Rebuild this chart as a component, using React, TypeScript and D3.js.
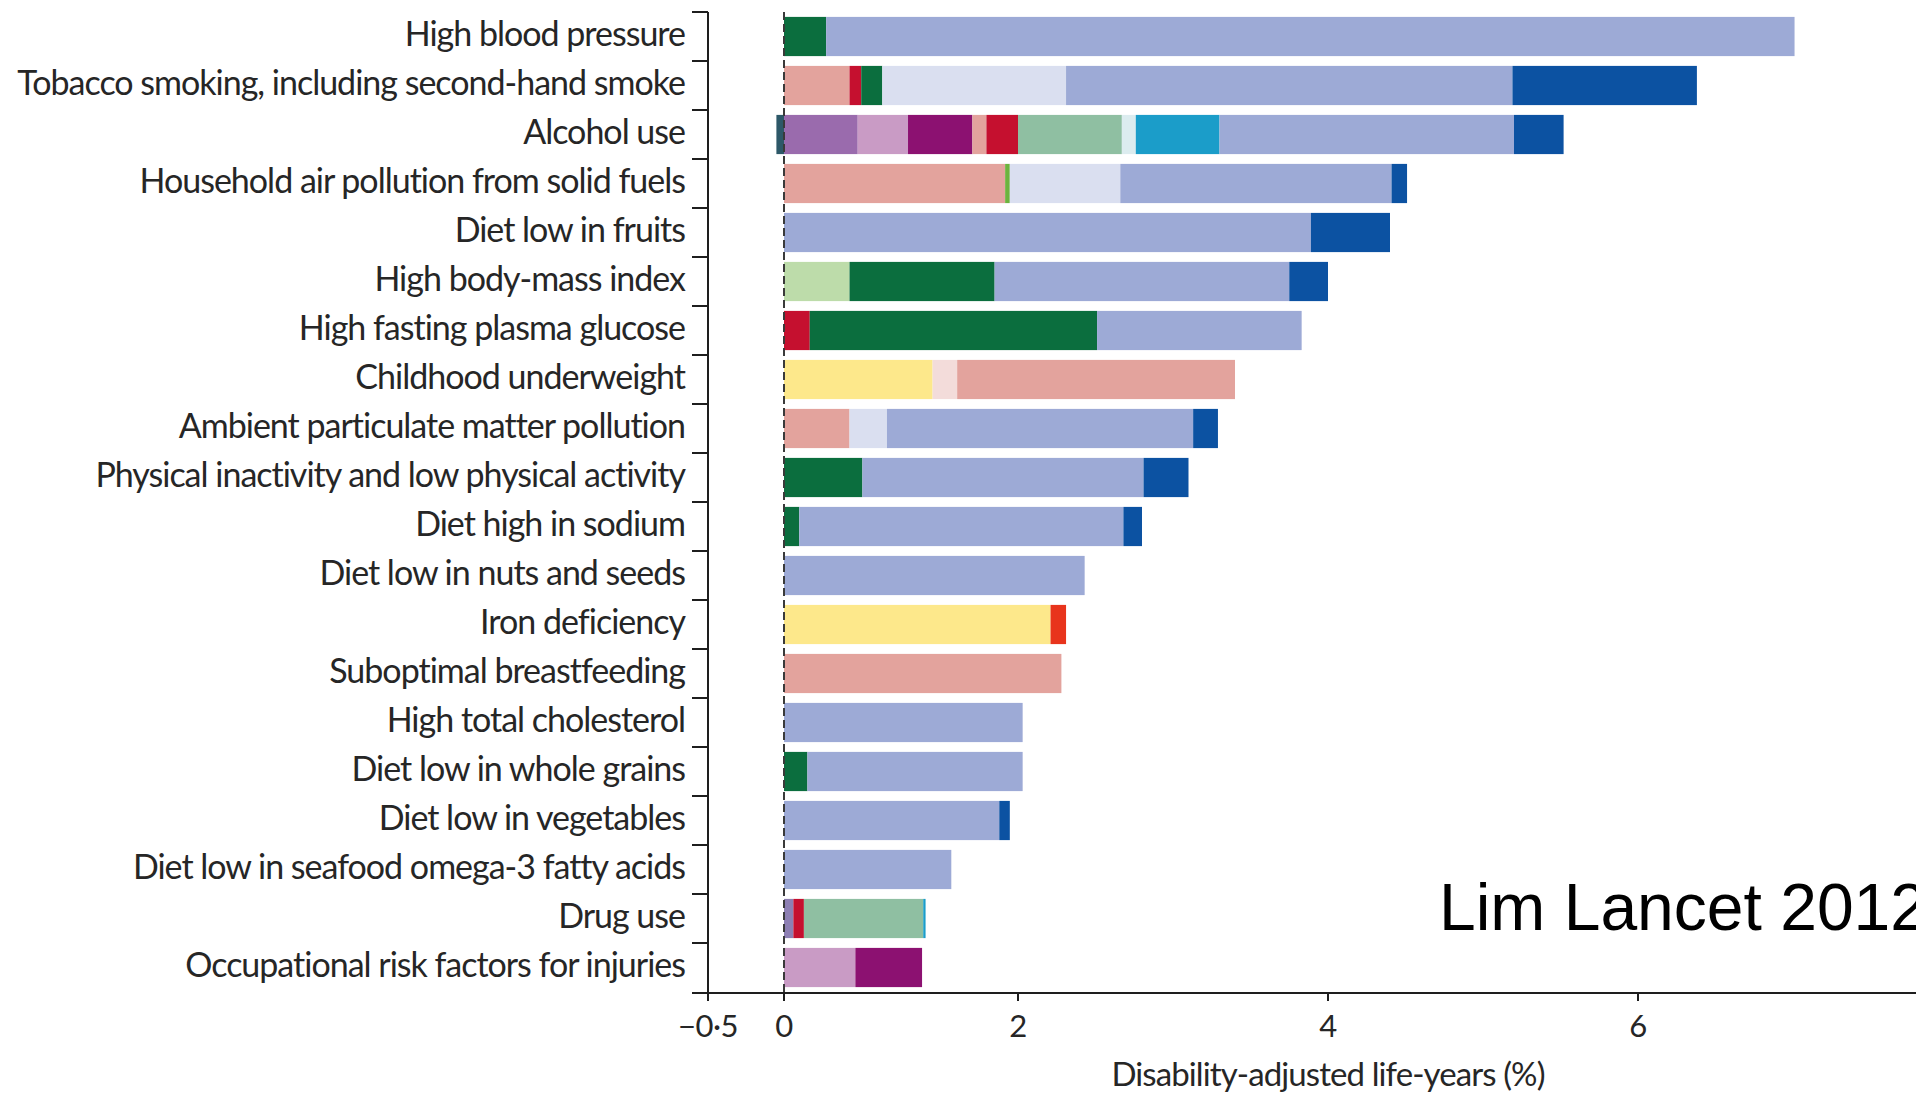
import { useEffect, useRef } from "react";
import * as d3 from "d3";

const categories = [
  "High blood pressure",
  "Tobacco smoking, including second-hand smoke",
  "Alcohol use",
  "Household air pollution from solid fuels",
  "Diet low in fruits",
  "High body-mass index",
  "High fasting plasma glucose",
  "Childhood underweight",
  "Ambient particulate matter pollution",
  "Physical inactivity and low physical activity",
  "Diet high in sodium",
  "Diet low in nuts and seeds",
  "Iron deficiency",
  "Suboptimal breastfeeding",
  "High total cholesterol",
  "Diet low in whole grains",
  "Diet low in vegetables",
  "Diet low in seafood omega-3 fatty acids",
  "Drug use",
  "Occupational risk factors for injuries",
];

// DALYs (%) by cause group, one value per risk factor (same order as categories)
const ihdBenefit =    [0, 0, -0.05, 0, 0, 0, 0, 0, 0, 0, 0, 0, 0, 0, 0, 0, 0, 0, 0, 0];
const transport =     [0, 0, 0.63, 0, 0, 0, 0, 0, 0, 0, 0, 0, 0, 0, 0, 0, 0, 0, 0, 0];
const selfHarm =      [0, 0, 0, 0, 0, 0, 0, 0, 0, 0, 0, 0, 0, 0, 0, 0, 0, 0, 0.08, 0];
const unintentional = [0, 0, 0.43, 0, 0, 0, 0, 0, 0, 0, 0, 0, 0, 0, 0, 0, 0, 0, 0, 0.61];
const violence =      [0, 0, 0.55, 0, 0, 0, 0, 0, 0, 0, 0, 0, 0, 0, 0, 0, 0, 0, 0, 0.57];
const nutrition =     [0, 0, 0, 0, 0, 0, 0, 1.27, 0, 0, 0, 0, 2.21, 0, 0, 0, 0, 0, 0, 0];
const neonatal =      [0, 0, 0, 0, 0, 0, 0, 0.21, 0, 0, 0, 0, 0, 0, 0, 0, 0, 0, 0, 0];
const commInf =       [0, 0.56, 0.12, 1.89, 0, 0, 0, 1.92, 0.56, 0, 0, 0, 0, 2.28, 0, 0, 0, 0, 0, 0];
const hivTb =         [0, 0.1, 0.27, 0, 0, 0, 0.22, 0, 0, 0, 0, 0, 0, 0, 0, 0, 0, 0, 0.09, 0];
const maternal =      [0, 0, 0, 0, 0, 0, 0, 0, 0, 0, 0, 0, 0.1, 0, 0, 0, 0, 0, 0, 0];
const musculo =       [0, 0, 0, 0, 0, 0.56, 0, 0, 0, 0, 0, 0, 0, 0, 0, 0, 0, 0, 0, 0];
const diabetes =      [0.36, 0.18, 0, 0, 0, 1.24, 2.29, 0, 0, 0.67, 0.13, 0, 0, 0, 0, 0.2, 0, 0, 0, 0];
const mental =        [0, 0, 0.67, 0, 0, 0, 0, 0, 0, 0, 0, 0, 0, 0, 0, 0, 0, 0, 1.02, 0];
const sense =         [0, 0, 0, 0.04, 0, 0, 0, 0, 0, 0, 0, 0, 0, 0, 0, 0, 0, 0, 0, 0];
const neuro =         [0, 0, 0.09, 0, 0, 0, 0, 0, 0, 0, 0, 0, 0, 0, 0, 0, 0, 0, 0, 0];
const cirrhosis =     [0, 0, 0.54, 0, 0, 0, 0, 0, 0, 0, 0, 0, 0, 0, 0, 0, 0, 0, 0.02, 0];
const chronicResp =   [0, 1.47, 0, 0.73, 0, 0, 0, 0, 0.32, 0, 0, 0, 0, 0, 0, 0, 0, 0, 0, 0];
const cardio =        [6.65, 2.88, 1.9, 1.75, 3.89, 1.95, 1.32, 0, 2.25, 2.14, 2.55, 2.43, 0, 0, 2.03, 1.83, 1.84, 1.43, 0, 0];
const cancer =        [0, 1.19, 0.32, 0.1, 0.51, 0.25, 0, 0, 0.16, 0.29, 0.12, 0, 0, 0, 0, 0, 0.09, 0, 0, 0];

const seriesKeys = [
  "ihdBenefit", "transport", "selfHarm", "unintentional", "violence", "nutrition",
  "neonatal", "commInf", "hivTb", "maternal", "musculo", "diabetes", "mental",
  "sense", "neuro", "cirrhosis", "chronicResp", "cardio", "cancer",
];
const seriesValues = [
  ihdBenefit, transport, selfHarm, unintentional, violence, nutrition,
  neonatal, commInf, hivTb, maternal, musculo, diabetes, mental,
  sense, neuro, cirrhosis, chronicResp, cardio, cancer,
];
const seriesColors = [
  "#2d5868", "#9a6bad", "#8d7fb3", "#c99bc5", "#8c1171", "#fde88b",
  "#f3dcda", "#e3a39d", "#c5102f", "#e8341c", "#bddcaa", "#0b6e3e", "#8fbfa2",
  "#6cb33e", "#dcecef", "#1b9dc9", "#dadff0", "#9daad6", "#0c52a2",
];

// x-axis as printed on the figure (tick spacing is not uniform)
const axisTicks = [-0.5, 0, 2, 4, 6];
const axisTickLabels = ["\u22120\u00b75", "0", "2", "4", "6"];

const W = 1916;
const H = 1093;
const FONT = "Lato, 'Open Sans', sans-serif";

export default function App() {
  const svgRef = useRef<SVGSVGElement>(null);

  useEffect(() => {
    if (!svgRef.current) return;
    const svg = d3.select(svgRef.current);
    svg.selectAll("*").remove();

    const axisX = 708;
    const zeroX = 784;
    const top = 12;
    const bottom = 993;

    const x = d3
      .scaleLinear()
      .domain([-0.5, 0, 2, 6])
      .range([axisX, zeroX, 1018, 1638]);

    const y = d3
      .scaleBand<string>()
      .domain(categories)
      .range([top, bottom - 1])
      .paddingInner(0.2)
      .paddingOuter(0.1);

    const table = categories.map((c, i) => {
      const row: Record<string, any> = { cat: c };
      seriesKeys.forEach((k, j) => (row[k] = seriesValues[j][i]));
      return row;
    });

    const stacked = d3
      .stack<any>()
      .keys(seriesKeys)
      .offset(d3.stackOffsetDiverging)(table);

    const color = d3.scaleOrdinal<string, string>().domain(seriesKeys).range(seriesColors);

    const bars = svg.append("g");
    stacked.forEach((s) => {
      bars
        .append("g")
        .attr("fill", color(s.key))
        .selectAll("rect")
        .data(s.filter((d) => d[1] !== d[0]))
        .join("rect")
        .attr("x", (d) => x(Math.min(d[0], d[1])))
        .attr("y", (d) => y(d.data.cat)!)
        .attr("width", (d) => Math.abs(x(d[1]) - x(d[0])))
        .attr("height", y.bandwidth());
    });

    // dashed zero line
    svg
      .append("line")
      .attr("x1", x(0))
      .attr("x2", x(0))
      .attr("y1", top)
      .attr("y2", bottom)
      .attr("stroke", "#3a3a3a")
      .attr("stroke-width", 2)
      .attr("stroke-dasharray", "8,4");

    // y axis with ticks between categories
    const axisColor = "#1e1e1e";
    svg
      .append("line")
      .attr("x1", axisX)
      .attr("x2", axisX)
      .attr("y1", top)
      .attr("y2", bottom + 7)
      .attr("stroke", axisColor)
      .attr("stroke-width", 2);
    const gap = (y.step() - y.bandwidth()) / 2;
    const boundaries = categories.map((c) => y(c)! - gap).concat([bottom]);
    svg
      .append("g")
      .selectAll("line")
      .data(boundaries)
      .join("line")
      .attr("x1", axisX - 16)
      .attr("x2", axisX)
      .attr("y1", (d) => d)
      .attr("y2", (d) => d)
      .attr("stroke", axisColor)
      .attr("stroke-width", 2);

    // category labels
    svg
      .append("g")
      .selectAll("text")
      .data(categories)
      .join("text")
      .attr("x", axisX - 23)
      .attr("y", (d) => y(d)! + y.bandwidth() / 2 - 2)
      .attr("dy", "0.35em")
      .attr("text-anchor", "end")
      .attr("font-family", FONT)
      .attr("font-size", 34)
      .attr("letter-spacing", "-1px")
      .attr("fill", "#262626")
      .text((d) => d);

    // x axis
    svg
      .append("line")
      .attr("x1", axisX - 16)
      .attr("x2", W)
      .attr("y1", bottom)
      .attr("y2", bottom)
      .attr("stroke", axisColor)
      .attr("stroke-width", 2);
    svg
      .append("g")
      .selectAll("line")
      .data(axisTicks)
      .join("line")
      .attr("x1", (d) => x(d))
      .attr("x2", (d) => x(d))
      .attr("y1", bottom)
      .attr("y2", bottom + 8)
      .attr("stroke", axisColor)
      .attr("stroke-width", 2);
    svg
      .append("g")
      .selectAll("text")
      .data(axisTicks)
      .join("text")
      .attr("x", (d) => x(d))
      .attr("y", bottom + 33)
      .attr("dy", "0.35em")
      .attr("text-anchor", "middle")
      .attr("font-family", FONT)
      .attr("font-size", 31)
      .attr("letter-spacing", "-0.5px")
      .attr("fill", "#262626")
      .text((_, i) => axisTickLabels[i]);

    svg
      .append("text")
      .attr("x", x(4))
      .attr("y", bottom + 81)
      .attr("dy", "0.35em")
      .attr("text-anchor", "middle")
      .attr("font-family", FONT)
      .attr("font-size", 33)
      .attr("letter-spacing", "-0.9px")
      .attr("fill", "#262626")
      .text("Disability-adjusted life-years (%)");

    svg
      .append("text")
      .attr("x", 1439)
      .attr("y", 930)
      .attr("font-family", "'Liberation Sans', Arial, sans-serif")
      .attr("font-size", 66)
      .attr("fill", "#000")
      .text("Lim Lancet 2012");
  }, []);

  return (
    <svg
      ref={svgRef}
      width={W}
      height={H}
      style={{ position: "absolute", left: 0, top: 0, background: "#fff" }}
    />
  );
}
